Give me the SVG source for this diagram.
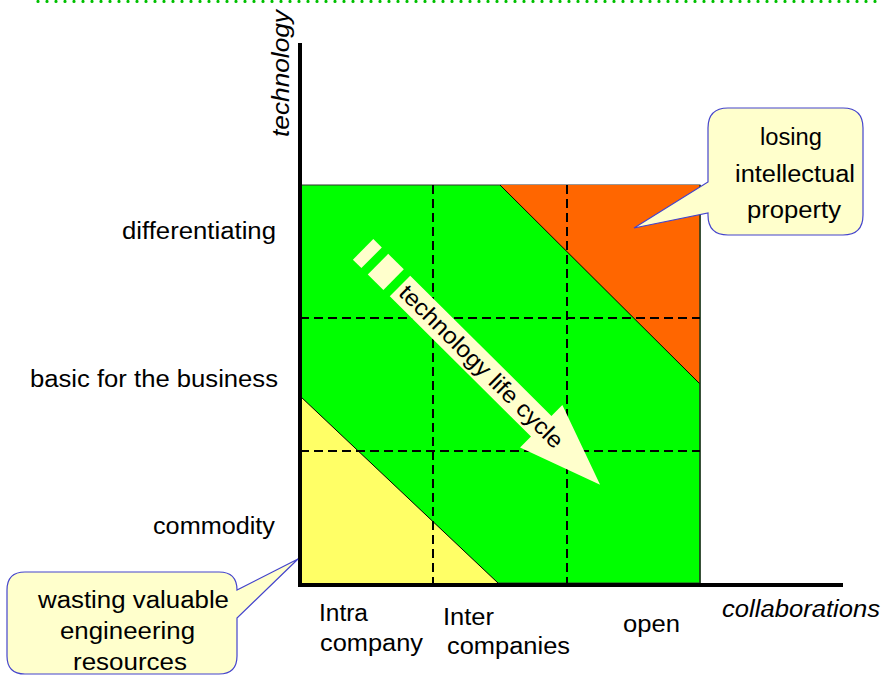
<svg xmlns="http://www.w3.org/2000/svg" width="883" height="675" viewBox="0 0 883 675">
<style>
  text { font-family: "Liberation Sans", Arial, sans-serif; font-size: 23px; fill: #000; }
  .it { font-style: italic; }
  .grid { stroke: #000; stroke-width: 2; stroke-dasharray: 9 5; fill: none; }
  .bubble { fill: #ffffcc; stroke: #4444cc; stroke-width: 1.2; }
  .axis { stroke: #000; stroke-width: 4; fill: none; }
  .diag { stroke: #000; stroke-width: 1; fill: none; }
  .cream { fill: #ffffcc; }
</style>
<rect width="883" height="675" fill="#fff"/>
<line x1="38" y1="1.5" x2="883" y2="1.5" stroke="#00c000" stroke-width="3.2" stroke-linecap="round" stroke-dasharray="0 9"/>

<g id="matrix">
  <rect x="300" y="185" width="400" height="398" fill="#00ff00" stroke="#333" stroke-width="1"/>
  <polygon points="500,185 700,185 700,384" fill="#ff6600"/>
  <polygon points="300,396 300,583 498,583" fill="#ffff66"/>
  <line class="diag" x1="500" y1="185" x2="700" y2="384"/>
  <line class="diag" x1="300" y1="396" x2="498" y2="583"/>
  <line x1="700" y1="185" x2="700" y2="583" stroke="#1a3a1a" stroke-width="1.5"/>
  <line class="grid" x1="433" y1="185" x2="433" y2="583"/>
  <line class="grid" x1="567" y1="185" x2="567" y2="583"/>
  <line class="grid" x1="300" y1="318" x2="700" y2="318"/>
  <line class="grid" x1="300" y1="451" x2="700" y2="451"/>
</g>

<g id="axes">
  <line class="axis" x1="300" y1="43" x2="300" y2="587"/>
  <line class="axis" x1="298" y1="585" x2="843" y2="585"/>
  <text class="it" transform="translate(289,137) rotate(-90)" textLength="127" lengthAdjust="spacingAndGlyphs">technology</text>
  <text class="it" x="722" y="617" textLength="158" lengthAdjust="spacingAndGlyphs">collaborations</text>
</g>

<g id="y-labels">
  <text x="122" y="239" textLength="154" lengthAdjust="spacingAndGlyphs">differentiating</text>
  <text x="30" y="387" textLength="248" lengthAdjust="spacingAndGlyphs">basic for the business</text>
  <text x="153" y="534" textLength="122" lengthAdjust="spacingAndGlyphs">commodity</text>
</g>

<g id="x-labels">
  <text x="319" y="621" textLength="49" lengthAdjust="spacingAndGlyphs">Intra</text>
  <text x="320" y="651" textLength="103" lengthAdjust="spacingAndGlyphs">company</text>
  <text x="443" y="625" textLength="51" lengthAdjust="spacingAndGlyphs">Inter</text>
  <text x="447" y="654" textLength="123" lengthAdjust="spacingAndGlyphs">companies</text>
  <text x="623" y="632" textLength="57" lengthAdjust="spacingAndGlyphs">open</text>
</g>

<g id="connectors">
  <g id="lifecycle-arrow" transform="translate(400,286) rotate(44.8)">
    <rect class="cream" x="-52" y="-14.5" width="12" height="29"/>
    <rect class="cream" x="-31" y="-14.5" width="22" height="29"/>
    <polygon class="cream" points="0,-14.5 199,-14.5 199,-30 282,0 199,30 199,14.5 0,14.5"/>
    <text x="4" y="7.5" textLength="221" lengthAdjust="spacingAndGlyphs">technology life cycle</text>
  </g>
</g>

<g id="bubble-losing">
  <path class="bubble" d="M728,108 H843 Q863,108 863,128 V215 Q863,235 843,235 H728 Q708,235 708,215 V213 L634,228 L708,182 V128 Q708,108 728,108 Z"/>
  <text x="760" y="145" textLength="62" lengthAdjust="spacingAndGlyphs">losing</text>
  <text x="735" y="182" textLength="120" lengthAdjust="spacingAndGlyphs">intellectual</text>
  <text x="747" y="218" textLength="94" lengthAdjust="spacingAndGlyphs">property</text>
</g>

<g id="bubble-wasting">
  <path class="bubble" d="M25,572 H219 Q237,572 237,590 L298,559 L237,618 V656 Q237,674 219,674 H25 Q7,674 7,656 V590 Q7,572 25,572 Z"/>
  <text x="38" y="608" textLength="191" lengthAdjust="spacingAndGlyphs">wasting valuable</text>
  <text x="60" y="639" textLength="135" lengthAdjust="spacingAndGlyphs">engineering</text>
  <text x="73" y="670" textLength="114" lengthAdjust="spacingAndGlyphs">resources</text>
</g>
</svg>
